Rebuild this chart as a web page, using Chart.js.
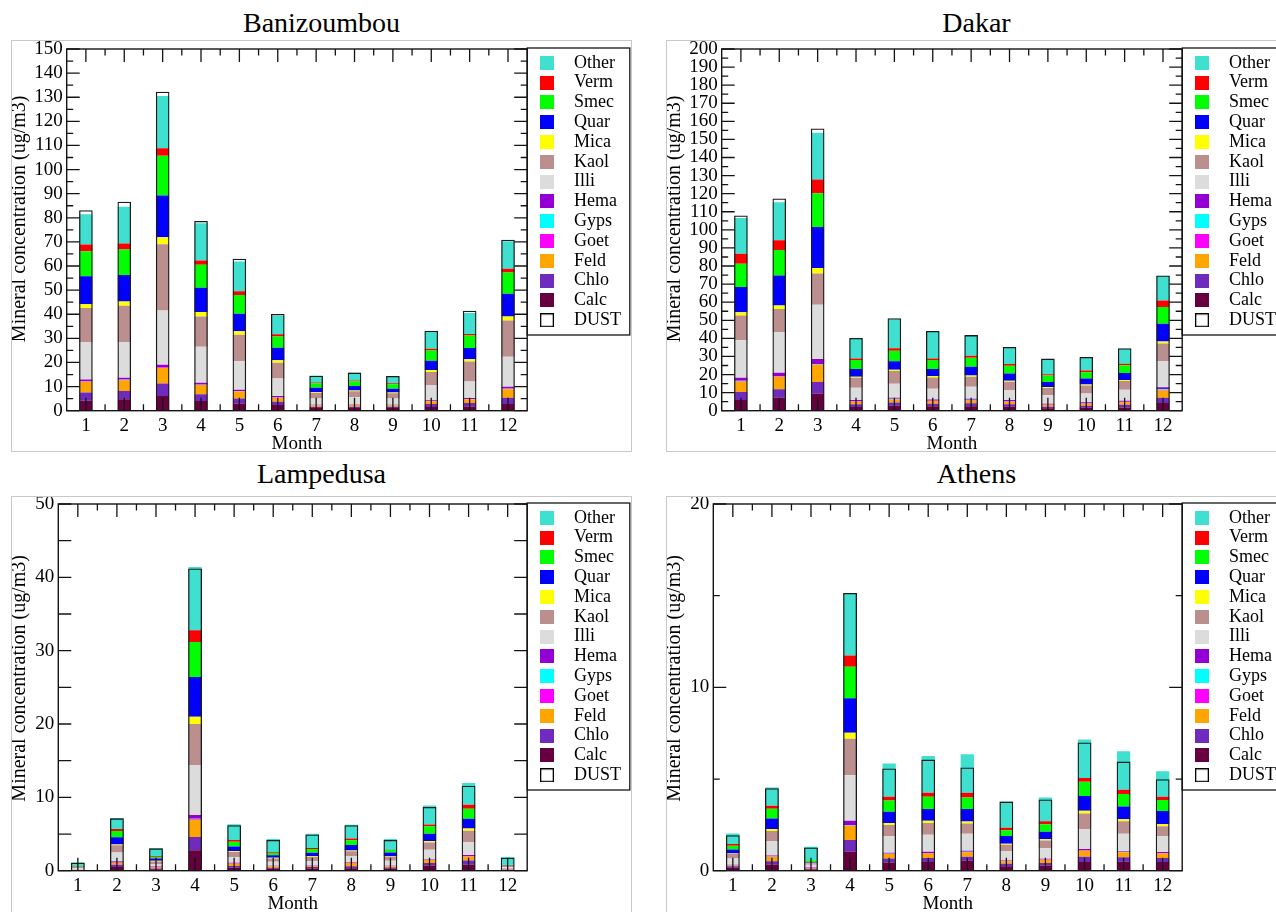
<!DOCTYPE html>
<html><head><meta charset="utf-8">
<script src="https://cdn.jsdelivr.net/npm/chart.js@4.4.1/dist/chart.umd.min.js"></script>
<style>
html,body{margin:0;padding:0;background:#fff;overflow:hidden;width:1276px;height:912px;position:relative;}
.frame{position:absolute;border:1px solid #c8c8c8;box-sizing:border-box;}
.title{position:absolute;font-family:'Liberation Serif','Times New Roman',serif;font-size:28px;color:#000;text-align:center;width:621px;line-height:32px;white-space:nowrap;}
canvas{position:absolute;}
</style></head><body>
<div class="title" style="left:11px;top:7px">Banizoumbou</div>
<div class="title" style="left:666px;top:7px">Dakar</div>
<div class="title" style="left:11px;top:458px">Lampedusa</div>
<div class="title" style="left:666px;top:458px">Athens</div>
<div class="frame" style="left:11px;top:40px;width:621px;height:412px"></div>
<div class="frame" style="left:666px;top:40px;width:621px;height:412px"></div>
<div class="frame" style="left:11px;top:496px;width:621px;height:430px"></div>
<div class="frame" style="left:666px;top:496px;width:621px;height:430px"></div>
<canvas id="cBani" width="619" height="410" style="left:12px;top:41px"></canvas>
<canvas id="cDakar" width="619" height="410" style="left:667px;top:41px"></canvas>
<canvas id="cLamp" width="619" height="414" style="left:12px;top:497px"></canvas>
<canvas id="cAth" width="619" height="414" style="left:667px;top:497px"></canvas>
<script>
// ---------- categories ----------
const months = ['1','2','3','4','5','6','7','8','9','10','11','12'];
const minerals = ['Calc','Chlo','Feld','Goet','Gyps','Hema','Illi','Kaol','Mica','Quar','Smec','Verm','Other'];
const mineralColors = ['#66003f','#6f2bbd','#ffa500','#ff00ff','#00ffff','#9400d3','#dcdcdc','#bc8f8f','#ffff00','#0000ff','#00ff00','#ff0000','#40e0d0'];
const legendOrder = ['Other','Verm','Smec','Quar','Mica','Kaol','Illi','Hema','Gyps','Goet','Feld','Chlo','Calc','DUST'];

// ---------- Banizoumbou ----------
const baniCalc  = [4.1,4.8,6.1,4.0,2.9,2.4,1.1,1.1,1.1,1.5,1.7,2.8];
const baniChlo  = [3.4,3.4,5.2,2.8,2.2,1.3,0.4,0.5,0.5,1.3,1.5,2.6];
const baniFeld  = [4.5,4.4,6.4,3.9,2.9,1.7,0.7,0.8,0.7,1.1,1.5,3.5];
const baniGoet  = [0.2,0.2,0.3,0.1,0.1,0.2,0.1,0.1,0.1,0.1,0.1,0.2];
const baniGyps  = [0.1,0.1,0.1,0.1,0.1,0.1,0.05,0.05,0.05,0.05,0.05,0.1];
const baniHema  = [0.6,0.8,1.0,0.7,0.5,0.4,0.1,0.1,0.1,0.3,0.4,0.7];
const baniIlli  = [15.5,14.8,22.5,14.9,11.8,7.3,2.6,2.9,2.5,6.3,6.9,12.5];
const baniKaol  = [14.2,15.0,27.4,12.6,11.0,6.5,2.3,2.5,2.2,5.4,8.3,15.0];
const baniMica  = [1.5,1.8,2.9,1.8,1.4,1.0,0.3,0.3,0.3,0.8,0.9,1.7];
const baniQuar  = [11.7,11.0,17.3,10.1,7.3,5.2,1.9,1.9,1.6,3.9,4.7,9.4];
const baniSmec  = [10.3,10.5,16.5,9.5,7.8,4.7,1.8,2.0,1.8,4.2,5.1,8.8];
const baniVerm  = [2.8,2.5,3.1,1.8,1.5,0.9,0.3,0.3,0.4,0.7,0.7,1.6];
const baniOther = [12.6,15.3,21.7,15.4,12.4,7.7,2.8,3.2,2.9,7.0,8.7,11.4];
const baniDust  = [83.1,86.7,132.3,78.7,63.0,40.1,14.5,15.8,14.4,33.2,41.5,70.9];
const baniYTicks = [0,10,20,30,40,50,60,70,80,90,100,110,120,130,140,150];

// ---------- Dakar ----------
const dakCalc  = [5.9,7.2,9.4,2.0,2.8,2.4,2.4,2.2,1.3,1.7,1.8,4.2];
const dakChlo  = [4.4,4.6,6.5,1.5,1.8,1.5,1.7,1.3,0.9,1.1,1.5,3.0];
const dakFeld  = [5.9,7.0,9.5,1.5,1.6,1.5,1.6,1.5,1.0,1.1,1.4,4.0];
const dakGoet  = [0.2,0.2,0.2,0.2,0.2,0.2,0.2,0.2,0.2,0.2,0.2,0.3];
const dakGyps  = [0.2,0.2,0.2,0.1,0.2,0.1,0.2,0.1,0.1,0.1,0.1,0.3];
const dakHema  = [1.6,1.8,2.8,0.6,0.6,0.5,0.5,0.6,0.4,0.5,0.5,1.1];
const dakIlli  = [20.7,22.5,30.0,6.8,7.7,5.9,6.7,5.5,4.6,4.8,6.1,14.6];
const dakKaol  = [13.8,12.7,17.3,5.5,7.0,6.2,5.5,4.6,4.0,4.4,4.8,9.6];
const dakMica  = [1.7,2.0,3.0,0.6,0.8,0.9,0.7,0.6,0.6,0.6,0.6,1.2];
const dakQuar  = [14.0,16.5,22.7,4.2,4.7,3.8,4.8,4.0,2.8,3.3,3.8,9.8];
const dakSmec  = [12.9,14.1,18.6,5.0,5.8,5.0,5.0,4.3,3.5,3.5,4.3,9.2];
const dakVerm  = [5.5,5.4,7.7,0.8,1.3,0.9,1.1,0.9,0.7,0.9,0.9,3.7];
const dakOther = [19.7,21.0,25.8,11.0,16.0,14.6,11.1,9.0,8.3,7.0,8.1,13.5];
const dakDust  = [108.0,117.4,156.1,40.2,51.1,44.1,41.8,35.2,28.8,29.7,34.5,74.8];
const dakYTicks = [0,10,20,30,40,50,60,70,80,90,100,110,120,130,140,150,160,170,180,190,200];

// ---------- Lampedusa ----------
const lampCalc  = [0.04,0.5,0.2,2.8,0.4,0.25,0.3,0.35,0.3,0.7,0.85,0.07];
const lampChlo  = [0.03,0.3,0.1,1.8,0.25,0.15,0.2,0.25,0.15,0.35,0.55,0.05];
const lampFeld  = [0.05,0.3,0.15,2.35,0.3,0.2,0.15,0.45,0.15,0.4,0.55,0.08];
const lampGoet  = [0.02,0.1,0.05,0.1,0.05,0.03,0.04,0.04,0.03,0.05,0.05,0.03];
const lampGyps  = [0.01,0.02,0.01,0.05,0.02,0.01,0.01,0.01,0.01,0.02,0.02,0.01];
const lampHema  = [0.02,0.1,0.05,0.5,0.08,0.03,0.05,0.05,0.03,0.08,0.13,0.02];
const lampIlli  = [0.15,1.15,0.35,6.8,0.75,0.55,0.55,0.85,0.7,1.25,1.75,0.2];
const lampKaol  = [0.2,1.0,0.35,5.6,0.7,0.45,0.6,0.65,0.55,1.0,1.55,0.2];
const lampMica  = [0.02,0.1,0.1,1.0,0.15,0.1,0.1,0.1,0.1,0.2,0.3,0.02];
const lampQuar  = [0.05,1.0,0.3,5.4,0.6,0.35,0.45,0.75,0.45,1.0,1.35,0.05];
const lampSmec  = [0.1,0.85,0.2,4.8,0.65,0.3,0.5,0.65,0.35,1.0,1.35,0.1];
const lampVerm  = [0.02,0.25,0.1,1.6,0.25,0.1,0.15,0.25,0.05,0.25,0.55,0.03];
const lampOther = [0.45,1.5,1.1,8.6,2.15,1.8,1.95,1.85,1.45,2.6,2.95,1.0];
const lampDust  = [1.09,7.14,3.05,41.2,6.2,4.2,4.95,6.2,4.2,8.7,11.6,1.77];
const lampYTicks = [0,10,20,30,40,50];

// ---------- Athens ----------
const athCalc  = [0.18,0.34,0.06,1.03,0.45,0.47,0.54,0.24,0.29,0.47,0.49,0.47];
const athChlo  = [0.06,0.17,0.04,0.64,0.22,0.22,0.22,0.14,0.13,0.29,0.24,0.22];
const athFeld  = [0.05,0.25,0.05,0.78,0.24,0.25,0.24,0.14,0.18,0.33,0.27,0.25];
const athGoet  = [0.02,0.02,0.02,0.02,0.02,0.02,0.02,0.02,0.02,0.02,0.02,0.02];
const athGyps  = [0.01,0.01,0.01,0.02,0.01,0.01,0.01,0.01,0.01,0.01,0.01,0.01];
const athHema  = [0.02,0.04,0.01,0.23,0.04,0.06,0.06,0.03,0.02,0.06,0.04,0.05];
const athIlli  = [0.33,0.79,0.13,2.49,0.91,0.93,0.92,0.49,0.57,1.09,0.94,0.87];
const athKaol  = [0.24,0.54,0.09,1.99,0.6,0.64,0.57,0.35,0.43,0.85,0.69,0.54];
const athMica  = [0.03,0.11,0.02,0.33,0.11,0.12,0.11,0.05,0.07,0.15,0.11,0.11];
const athQuar  = [0.22,0.58,0.04,1.87,0.61,0.64,0.67,0.42,0.4,0.8,0.69,0.71];
const athSmec  = [0.2,0.53,0.08,1.73,0.62,0.67,0.63,0.32,0.42,0.78,0.69,0.6];
const athVerm  = [0.09,0.16,0.02,0.61,0.2,0.22,0.26,0.13,0.16,0.21,0.22,0.18];
const athOther = [0.58,1.0,0.73,3.36,1.81,2.01,2.1,1.43,1.29,2.09,2.11,1.4];
const athDust  = [1.94,4.5,1.27,15.15,5.57,6.06,5.63,3.77,3.88,6.99,5.95,4.99];
const athYTicks = [0,10,20];

// ---------- rendering ----------
const SERIF = "'Liberation Serif','Times New Roman',serif";
Chart.defaults.font.family = SERIF;
Chart.defaults.color = '#000';

const ICON_W = 36;
function makeIcon(color, outlined) {
  const c = document.createElement('canvas');
  c.width = ICON_W; c.height = 14;
  const g = c.getContext('2d');
  if (outlined) {
    g.fillStyle = '#fff'; g.fillRect(11, 0, 14, 14);
    g.strokeStyle = '#000'; g.lineWidth = 1.3; g.strokeRect(11.65, 0.65, 12.7, 12.7);
  } else {
    g.fillStyle = color; g.fillRect(11, 0, 14, 14);
  }
  return c;
}
const icons = {};
minerals.forEach((m, i) => { icons[m] = makeIcon(mineralColors[i], false); });
icons['DUST'] = makeIcon('#fff', true);

const frameTicks = {
  id: 'frameTicks',
  beforeDraw(chart, args, opts) {
    // move the y-axis title band slightly up while the axis title layer is painted
    const y = chart.scales.y;
    y.top -= opts.titleShift; y.bottom -= opts.titleShift;
  },
  beforeDatasetsDraw(chart, args, opts) {
    const y = chart.scales.y;
    y.top += opts.titleShift; y.bottom += opts.titleShift;
  },
  afterDatasetsDraw(chart, args, opts) {
    const {ctx, chartArea: a} = chart;
    const x = chart.scales.x, y = chart.scales.y;
    const MAJ = 13, MIN = 6.5;
    ctx.save();
    ctx.strokeStyle = '#141414';
    ctx.lineWidth = 1.3;
    ctx.beginPath();
    const n = x.ticks.length;
    for (let i = 0; i < n; i++) {
      const px = x.getPixelForValue(i);
      ctx.moveTo(px, a.top); ctx.lineTo(px, a.top + MAJ);
      ctx.moveTo(px, a.bottom); ctx.lineTo(px, a.bottom - MAJ);
      if (i < n - 1) {
        const pm = x.getPixelForValue(i + 0.5);
        ctx.moveTo(pm, a.top); ctx.lineTo(pm, a.top + MIN);
        ctx.moveTo(pm, a.bottom); ctx.lineTo(pm, a.bottom - MIN);
      }
    }
    for (let v = y.min; v <= y.max + 1e-9; v += opts.majorStep) {
      const py = y.getPixelForValue(v);
      ctx.moveTo(a.left, py); ctx.lineTo(a.left + MAJ, py);
      ctx.moveTo(a.right, py); ctx.lineTo(a.right - MAJ, py);
    }
    if (opts.minorStep) {
      for (let v = y.min + opts.minorStep; v < y.max; v += opts.majorStep) {
        const py = y.getPixelForValue(v);
        ctx.moveTo(a.left, py); ctx.lineTo(a.left + MIN, py);
        ctx.moveTo(a.right, py); ctx.lineTo(a.right - MIN, py);
      }
    }
    ctx.stroke();
    ctx.lineWidth = 1.4;
    ctx.strokeRect(a.left, a.top, a.right - a.left, a.bottom - a.top);
    ctx.restore();
  },
  afterDraw(chart, args, opts) {
    const L = chart.legend;
    const ctx = chart.ctx;
    ctx.save();
    ctx.strokeStyle = '#141414';
    ctx.lineWidth = 1.3;
    ctx.strokeRect(L.left, L.top - 1, chart.width - 1.2 - L.left, opts.legendHeight);
    ctx.restore();
  }
};

function build(id, series, dust, yTicks, cfg) {
  const datasets = [{
    label: 'DUST', data: dust, stack: 'dust', order: 0,
    backgroundColor: 'rgba(0,0,0,0)', borderColor: '#1a1a1a', borderWidth: 1.3,
    barPercentage: 0.355, categoryPercentage: 1, grouped: false
  }];
  minerals.forEach((m, i) => datasets.push({
    label: m, data: series[i], stack: 'minerals', order: 1,
    backgroundColor: mineralColors[i], borderWidth: 0,
    barPercentage: 0.34, categoryPercentage: 1, grouped: false
  }));
  new Chart(document.getElementById(id), {
    type: 'bar',
    data: { labels: months, datasets },
    options: {
      responsive: false, animation: false, events: [],
      layout: { autoPadding: false, padding: { top: cfg.top, left: 0, right: 0, bottom: 0 } },
      scales: {
        x: {
          type: 'category', stacked: true, offset: true,
          grid: { display: false, drawTicks: false }, border: { display: false },
          ticks: { font: { size: 19 }, padding: 4, color: '#000', autoSkip: false, maxRotation: 0 },
          title: { display: true, text: 'Month', font: { size: 19, lineHeight: 0.7 }, padding: 0, color: '#000' },
          afterFit: s => { s.height = 40.3; s.paddingLeft = 0; s.paddingRight = 0; }
        },
        y: {
          type: 'linear', stacked: true, min: yTicks[0], max: yTicks[yTicks.length - 1],
          grid: { display: false, drawTicks: false }, border: { display: false },
          ticks: { font: { size: 19 }, padding: 4, color: '#000', autoSkip: false },
          afterBuildTicks: s => { s.ticks = yTicks.map(v => ({ value: v })); },
          title: { display: true, text: 'Mineral concentration (ug/m3)', font: { size: 20, lineHeight: 0.8 }, padding: 0, color: '#000' },
          afterFit: s => { s.width = cfg.yWidth; s.paddingTop = 0; s.paddingBottom = 0; }
        }
      },
      plugins: {
        tooltip: { enabled: false },
        title: { display: false },
        legend: {
          display: true, position: 'right', align: 'start', fullSize: false,
          title: { display: true, text: '', font: { size: 3, lineHeight: 1 }, padding: 0 },
          labels: {
            usePointStyle: true, pointStyleWidth: ICON_W, boxHeight: 14, padding: 1.8,
            font: { size: 18 }, color: '#000',
            generateLabels: () => legendOrder.map(name => ({
              text: name, pointStyle: icons[name], fillStyle: '#fff', strokeStyle: '#000',
              lineWidth: 0, hidden: false, fontColor: '#000',
              datasetIndex: name === 'DUST' ? 0 : minerals.indexOf(name) + 1
            }))
          }
        },
        frameTicks: { majorStep: cfg.majorStep, minorStep: cfg.minorStep, legendHeight: 287, titleShift: cfg.titleShift }
      }
    },
    plugins: [frameTicks]
  });
}

build('cBani',
  [baniCalc, baniChlo, baniFeld, baniGoet, baniGyps, baniHema, baniIlli, baniKaol, baniMica, baniQuar, baniSmec, baniVerm, baniOther],
  baniDust, baniYTicks, { top: 8, yWidth: 54.7, majorStep: 10, minorStep: 5, titleShift: 11 });
build('cDakar',
  [dakCalc, dakChlo, dakFeld, dakGoet, dakGyps, dakHema, dakIlli, dakKaol, dakMica, dakQuar, dakSmec, dakVerm, dakOther],
  dakDust, dakYTicks, { top: 8, yWidth: 54.7, majorStep: 10, minorStep: 5, titleShift: 11 });
build('cLamp',
  [lampCalc, lampChlo, lampFeld, lampGoet, lampGyps, lampHema, lampIlli, lampKaol, lampMica, lampQuar, lampSmec, lampVerm, lampOther],
  lampDust, lampYTicks, { top: 7, yWidth: 46.3, majorStep: 5, minorStep: null, titleShift: 9 });
build('cAth',
  [athCalc, athChlo, athFeld, athGoet, athGyps, athHema, athIlli, athKaol, athMica, athQuar, athSmec, athVerm, athOther],
  athDust, athYTicks, { top: 7, yWidth: 46.3, majorStep: 10, minorStep: 5, titleShift: 9 });
</script>
</body></html>
